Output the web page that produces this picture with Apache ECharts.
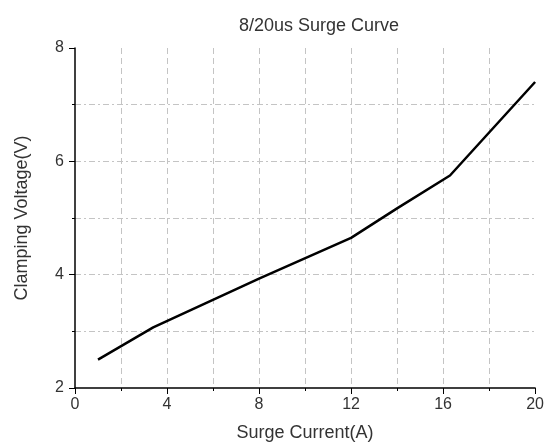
<!DOCTYPE html>
<html>
<head>
<meta charset="utf-8">
<script src="https://cdn.jsdelivr.net/npm/echarts@6/dist/echarts.min.js"></script>
<style>
  html, body { margin: 0; padding: 0; background: #fff; }
  #chart { width: 547px; height: 448px; }
</style>
</head>
<body>
<div id="chart"></div>
<script>
// surge current (A) vs clamping voltage (V)
var current = [1, 3.4, 8, 12, 14, 16.3, 20];
var voltage = [2.5, 3.07, 3.93, 4.65, 5.17, 5.75, 7.4];

var points = current.map(function (c, i) { return [c, voltage[i]]; });

var gridLine = { color: '#c4c4c4', type: [6, 4] };

var myChart = echarts.init(document.getElementById('chart'));
myChart.setOption({
    textStyle: { fontFamily: 'Liberation Sans' },
    title: {
        text: '8/20us Surge Curve',
        left: 314,
        textAlign: 'center',
        top: 12,
        textStyle: { fontSize: 18, fontWeight: 'normal', color: '#333' }
    },
    grid: { left: 75, right: 10, top: 48, bottom: 60 },
    xAxis: {
        type: 'value',
        min: 0, max: 20, interval: 4,
        name: 'Surge Current(A)',
        nameLocation: 'middle',
        nameGap: 36,
        nameTextStyle: { fontSize: 18, color: '#333' },
        axisLine: { lineStyle: { color: '#000', width: 1.5 } },
        axisTick: { length: 6, lineStyle: { color: '#000' } },
        minorTick: { show: true, splitNumber: 2, length: 3, lineStyle: { color: '#000' } },
        axisLabel: { fontSize: 16, color: '#333', margin: 9 },
        splitLine: {
            show: true, showMinLine: false, showMaxLine: false,
            lineStyle: gridLine
        },
        minorSplitLine: { show: true, lineStyle: gridLine }
    },
    yAxis: {
        type: 'value',
        min: 2, max: 8, interval: 2,
        name: 'Clamping Voltage(V)',
        nameLocation: 'middle',
        nameGap: 44,
        nameTextStyle: { fontSize: 18, color: '#333' },
        axisLine: { show: true, lineStyle: { color: '#000', width: 1.5 } },
        axisTick: { show: true, length: 6, lineStyle: { color: '#000' } },
        minorTick: { show: true, splitNumber: 2, length: 3, lineStyle: { color: '#000' } },
        axisLabel: { fontSize: 16, color: '#333', margin: 11 },
        splitLine: {
            show: true, showMinLine: false, showMaxLine: false,
            lineStyle: { color: '#c4c4c4', type: [6, 3, 2, 3] }
        },
        minorSplitLine: {
            show: true,
            lineStyle: { color: '#c4c4c4', type: [6, 3, 2, 3] }
        }
    },
    series: [{
        type: 'line',
        data: points,
        symbol: 'none',
        smooth: false,
        lineStyle: { color: '#000', width: 2.5 }
    }],
    animation: false
});
</script>
</body>
</html>
